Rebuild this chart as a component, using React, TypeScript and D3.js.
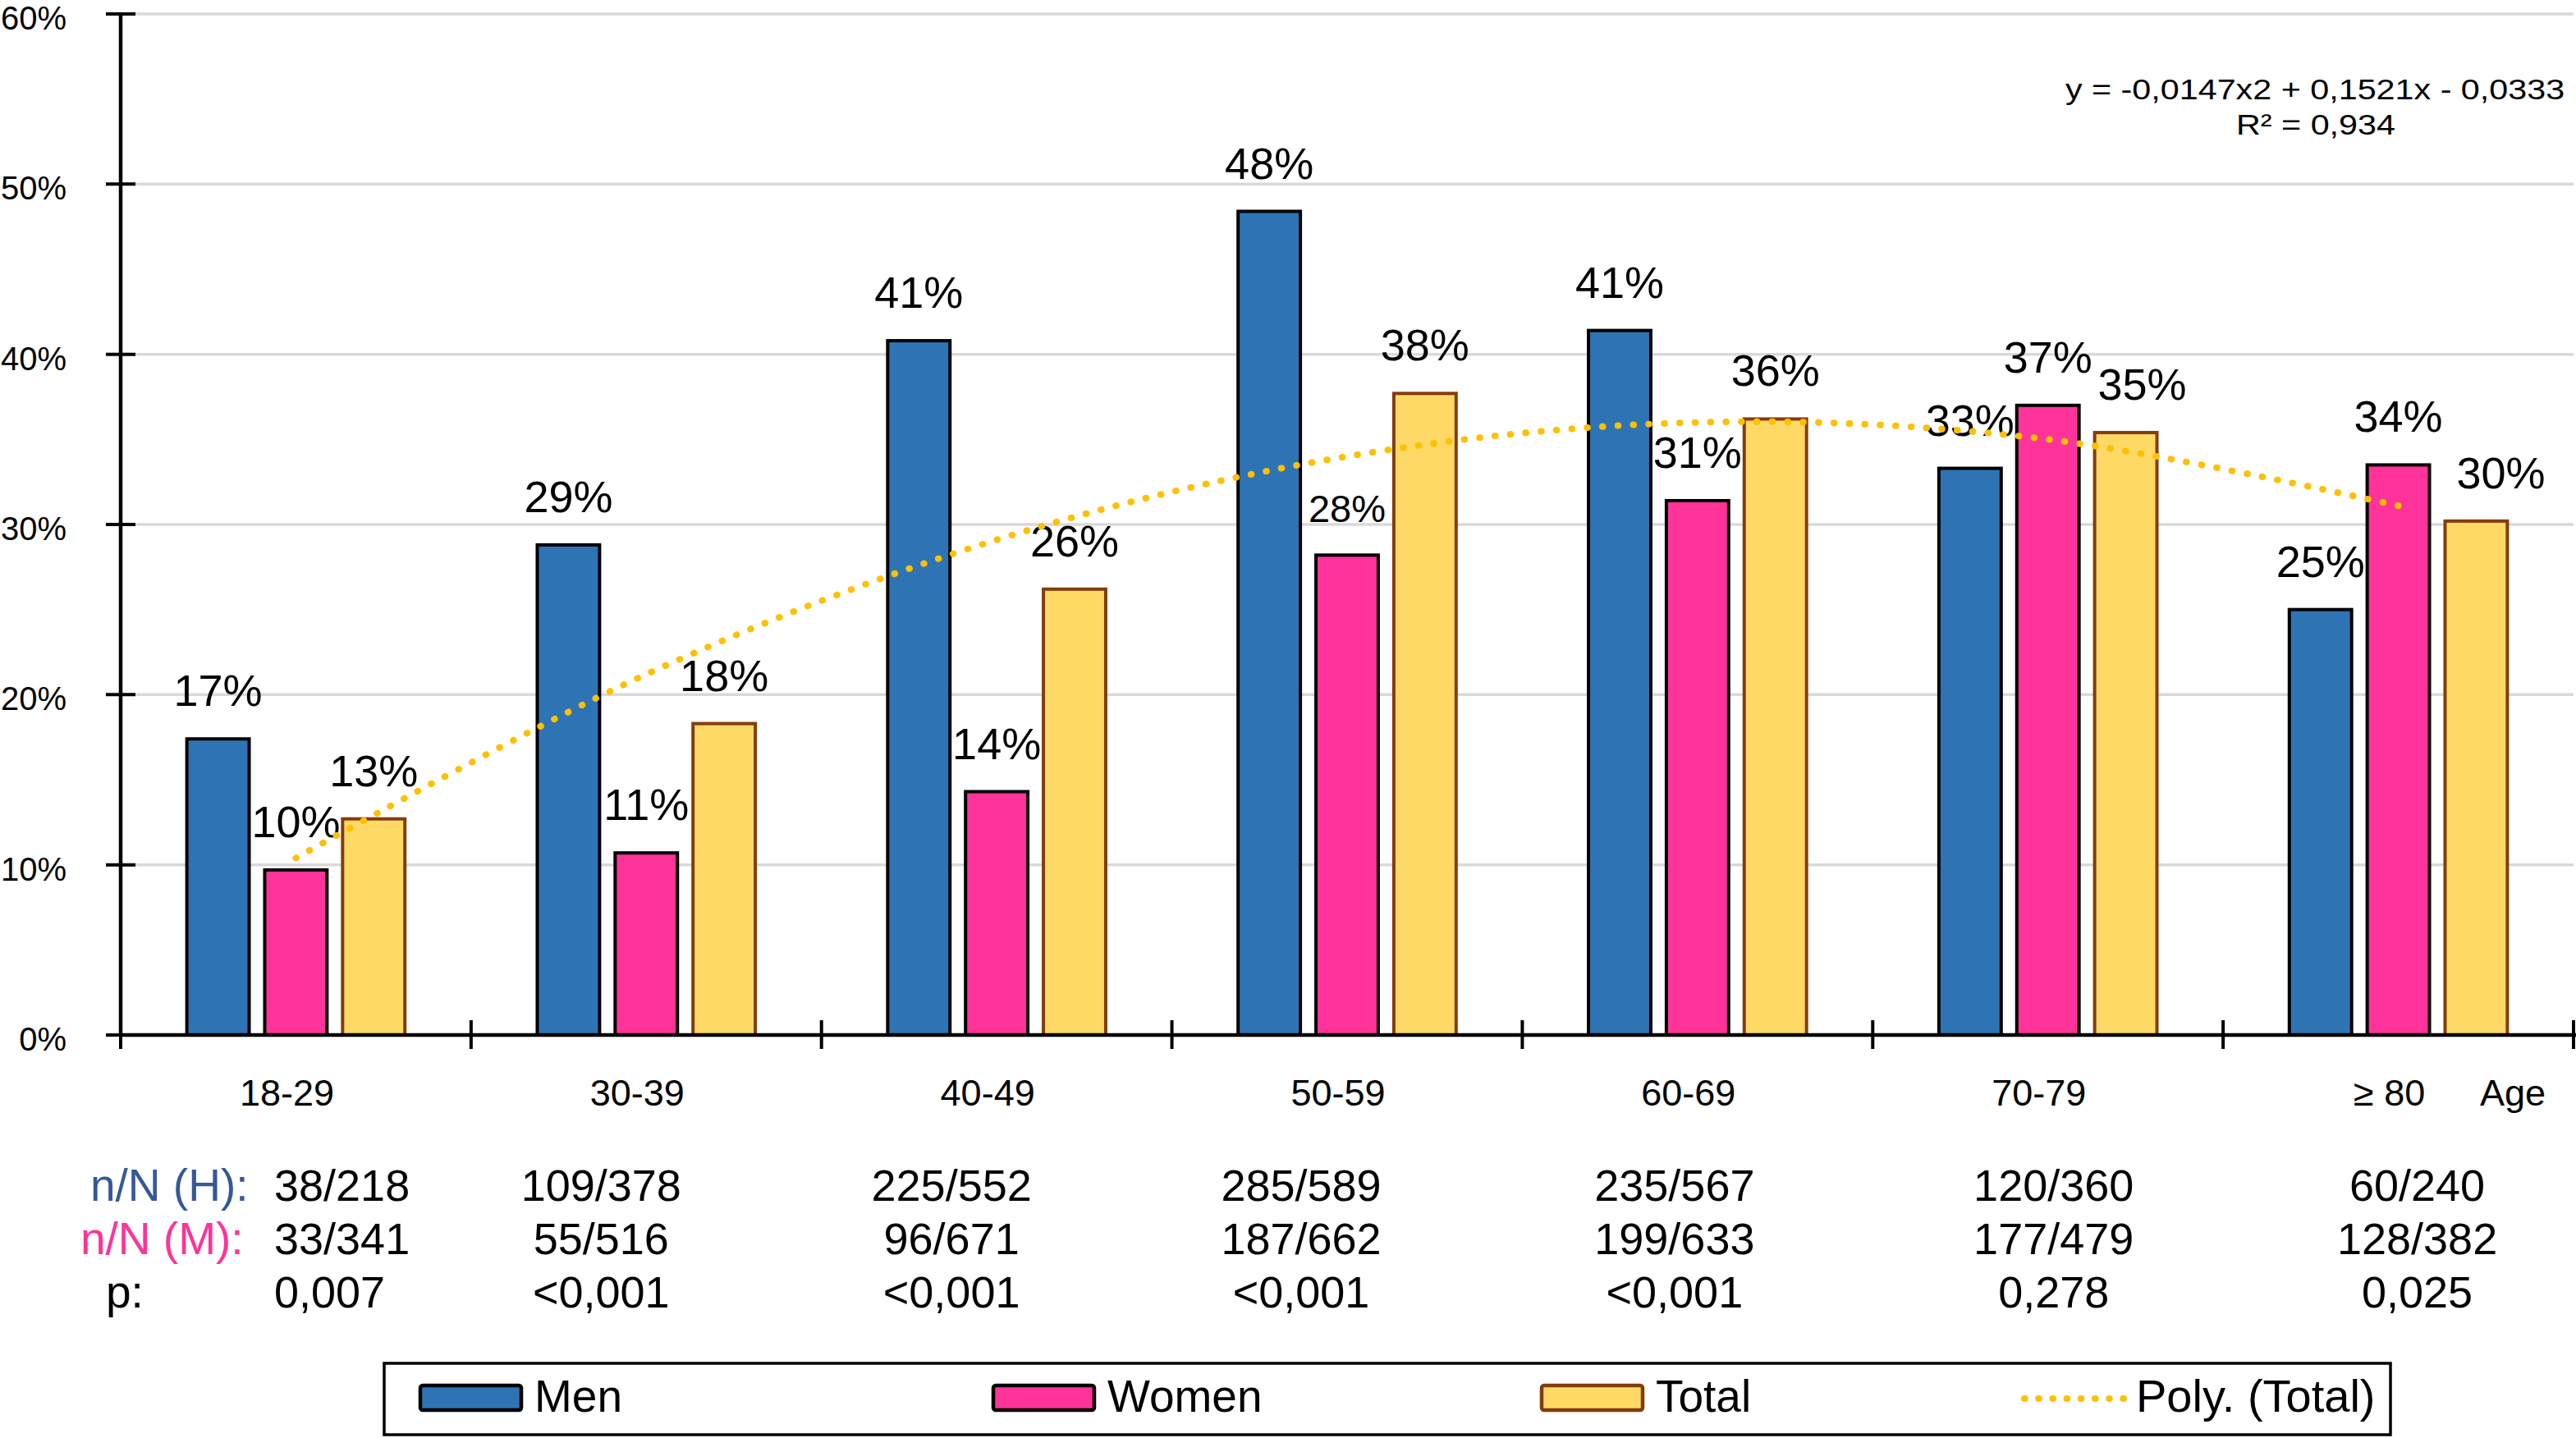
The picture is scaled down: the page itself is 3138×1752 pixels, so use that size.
import { useEffect, useRef } from 'react';
import * as d3 from 'd3';

// values (percent)
const categories = ['18-29', '30-39', '40-49', '50-59', '60-69', '70-79', '≥ 80'];
const menPct = [17.4, 28.8, 40.8, 48.4, 41.4, 33.3, 25.0];
const womenPct = [9.7, 10.7, 14.3, 28.2, 31.4, 37.0, 33.5];
const totalPct = [12.7, 18.3, 26.2, 37.7, 36.2, 35.4, 30.2];
const trendPct = [10.4, 21.2, 29.1, 34.0, 36.0, 35.0, 31.1];
const yTicks = [0, 10, 20, 30, 40, 50, 60];

const nMen = ['38/218', '109/378', '225/552', '285/589', '235/567', '120/360', '60/240'];
const nWomen = ['33/341', '55/516', '96/671', '187/662', '199/633', '177/479', '128/382'];
const pValues = ['0,007', '<0,001', '<0,001', '<0,001', '<0,001', '0,278', '0,025'];

const equationText = 'y = -0,0147x2 + 0,1521x - 0,0333';
const r2Text = 'R² = 0,934';

const W = 3138;
const H = 1752;
const FONT = "'Liberation Sans', Arial, Helvetica, sans-serif";

export default function App() {
  const svgRef = useRef<SVGSVGElement>(null);

  useEffect(() => {
    if (!svgRef.current) return;
    document.body.style.margin = '0';

    const svg = d3.select(svgRef.current);
    svg.selectAll('*').remove();

    const series = [
      { key: 'Men', values: menPct, fill: '#2E74B5', stroke: '#000000' },
      { key: 'Women', values: womenPct, fill: '#FF3399', stroke: '#000000' },
      { key: 'Total', values: totalPct, fill: '#FFD966', stroke: '#843C0C' },
    ];

    const x0 = d3.scaleBand<string>().domain(categories).range([147, 3135]);
    const x1 = d3.scaleBand<string>()
      .domain(series.map(s => s.key))
      .range([0, x0.bandwidth()])
      .paddingInner(0.2)
      .paddingOuter(0.85);
    const y = d3.scaleLinear().domain([0, 60]).range([1261, 17]);
    const cx = (i: number) => (x0(categories[i]) as number) + x0.bandwidth() / 2;

    svg.append('rect').attr('width', W).attr('height', H).attr('fill', '#ffffff');

    // grid
    svg.selectAll('.grid')
      .data(yTicks.filter(t => t > 0))
      .enter()
      .append('line')
      .attr('x1', 147)
      .attr('x2', 3135)
      .attr('y1', d => y(d))
      .attr('y2', d => y(d))
      .attr('stroke', '#d9d9d9')
      .attr('stroke-width', 3.5);

    // bars
    series.forEach(s => {
      svg.append('g')
        .selectAll('rect')
        .data(s.values)
        .enter()
        .append('rect')
        .attr('x', (_, i) => (x0(categories[i]) as number) + (x1(s.key) as number))
        .attr('y', d => y(d))
        .attr('width', x1.bandwidth())
        .attr('height', d => y(0) - y(d))
        .attr('fill', s.fill)
        .attr('stroke', s.stroke)
        .attr('stroke-width', 4);
    });

    // data labels
    const nudge: Record<string, number> = { 'Total-5': 20, 'Total-6': 30 };
    series.forEach(s => {
      svg.append('g')
        .selectAll('text')
        .data(s.values)
        .enter()
        .append('text')
        .attr('x', (_, i) => (x0(categories[i]) as number) + (x1(s.key) as number) + x1.bandwidth() / 2 + (nudge[`${s.key}-${i}`] || 0))
        .attr('y', d => y(d) - 40)
        .attr('text-anchor', 'middle')
        .attr('font-family', FONT)
        .attr('font-size', (_, i) => (s.key === 'Women' && i === 3 ? 47 : 54))
        .attr('fill', '#000')
        .text(d => `${Math.round(d)}%`);
    });

    // y axis
    svg.append('line')
      .attr('x1', 147).attr('x2', 147)
      .attr('y1', y(60)).attr('y2', y(0))
      .attr('stroke', '#000').attr('stroke-width', 4.5);
    svg.selectAll('.ytick')
      .data(yTicks)
      .enter()
      .append('line')
      .attr('x1', 129).attr('x2', 165)
      .attr('y1', d => y(d)).attr('y2', d => y(d))
      .attr('stroke', '#000').attr('stroke-width', 4);
    svg.selectAll('.ylab')
      .data(yTicks)
      .enter()
      .append('text')
      .attr('x', 81)
      .attr('y', d => y(d) + 19)
      .attr('text-anchor', 'end')
      .attr('font-family', FONT)
      .attr('font-size', 40)
      .text(d => `${d}%`);

    // x axis
    svg.append('line')
      .attr('x1', 147).attr('x2', W)
      .attr('y1', y(0)).attr('y2', y(0))
      .attr('stroke', '#000').attr('stroke-width', 4.5);
    const bounds = categories.map(c => x0(c) as number).concat([x0.range()[1]]);
    svg.selectAll('.xtick')
      .data(bounds)
      .enter()
      .append('line')
      .attr('x1', d => d).attr('x2', d => d)
      .attr('y1', y(0) - 18).attr('y2', y(0) + 17)
      .attr('stroke', '#000').attr('stroke-width', 4);
    svg.selectAll('.xlab')
      .data(categories)
      .enter()
      .append('text')
      .attr('x', (_, i) => cx(i) - 11)
      .attr('y', 1347)
      .attr('text-anchor', 'middle')
      .attr('font-family', FONT)
      .attr('font-size', 45)
      .text(d => d);
    svg.append('text')
      .attr('x', 3021).attr('y', 1347)
      .attr('font-family', FONT).attr('font-size', 45)
      .text('Age');

    // table under the axis
    const colOffset = [-26, -55, -55, -56, -28, 7, 23];
    const rows = [
      { label: 'n/N (H):', color: '#34589A', lx: 110, base: 1463, values: nMen },
      { label: 'n/N (M):', color: '#FF3399', lx: 98, base: 1528, values: nWomen },
      { label: 'p:', color: '#000000', lx: 129, base: 1593, values: pValues },
    ];
    rows.forEach(r => {
      svg.append('text')
        .attr('x', r.lx).attr('y', r.base)
        .attr('font-family', FONT).attr('font-size', 55)
        .attr('fill', r.color)
        .text(r.label);
      svg.append('g')
        .selectAll('text')
        .data(r.values)
        .enter()
        .append('text')
        .attr('x', (_, i) => (i === 0 ? 334 : cx(i) + colOffset[i]))
        .attr('y', r.base)
        .attr('text-anchor', (_, i) => (i === 0 ? 'start' : 'middle'))
        .attr('font-family', FONT)
        .attr('font-size', 54)
        .text(d => d);
    });

    // polynomial trend line
    const trendLine = d3.line<number>()
      .x((_, i) => cx(i))
      .y(d => y(d))
      .curve(d3.curveCardinal.tension(0));
    svg.append('path')
      .datum(trendPct)
      .attr('d', trendLine)
      .attr('fill', 'none')
      .attr('stroke', '#FFC000')
      .attr('stroke-width', 8)
      .attr('stroke-linecap', 'round')
      .attr('stroke-dasharray', '0.5 18.3');

    svg.append('text')
      .attr('transform', 'translate(2820,121) scale(1.18,1)')
      .attr('text-anchor', 'middle')
      .attr('font-family', FONT)
      .attr('font-size', 35)
      .text(equationText);
    svg.append('text')
      .attr('transform', 'translate(2821,164) scale(1.18,1)')
      .attr('text-anchor', 'middle')
      .attr('font-family', FONT)
      .attr('font-size', 35)
      .text(r2Text);

    // legend
    svg.append('rect')
      .attr('x', 468).attr('y', 1661)
      .attr('width', 2444).attr('height', 87)
      .attr('fill', '#fff')
      .attr('stroke', '#000')
      .attr('stroke-width', 3.5);
    const legendX = [512, 1210, 1878];
    series.forEach((s, i) => {
      svg.append('rect')
        .attr('x', legendX[i]).attr('y', 1688)
        .attr('width', 123).attr('height', 30)
        .attr('rx', 3)
        .attr('fill', s.fill)
        .attr('stroke', s.stroke)
        .attr('stroke-width', 4.5);
      svg.append('text')
        .attr('x', legendX[i] + 139).attr('y', 1720)
        .attr('font-family', FONT).attr('font-size', 55)
        .text(s.key);
    });
    svg.append('line')
      .attr('x1', 2466).attr('x2', 2590)
      .attr('y1', 1704).attr('y2', 1704)
      .attr('stroke', '#FFC000')
      .attr('stroke-width', 8)
      .attr('stroke-linecap', 'round')
      .attr('stroke-dasharray', '0.5 16.7');
    svg.append('text')
      .attr('x', 2602).attr('y', 1720)
      .attr('font-family', FONT).attr('font-size', 56)
      .text('Poly. (Total)');
  }, []);

  return (
    <svg
      ref={svgRef}
      width={W}
      height={H}
      style={{ position: 'absolute', left: 0, top: 0, display: 'block' }}
    />
  );
}
